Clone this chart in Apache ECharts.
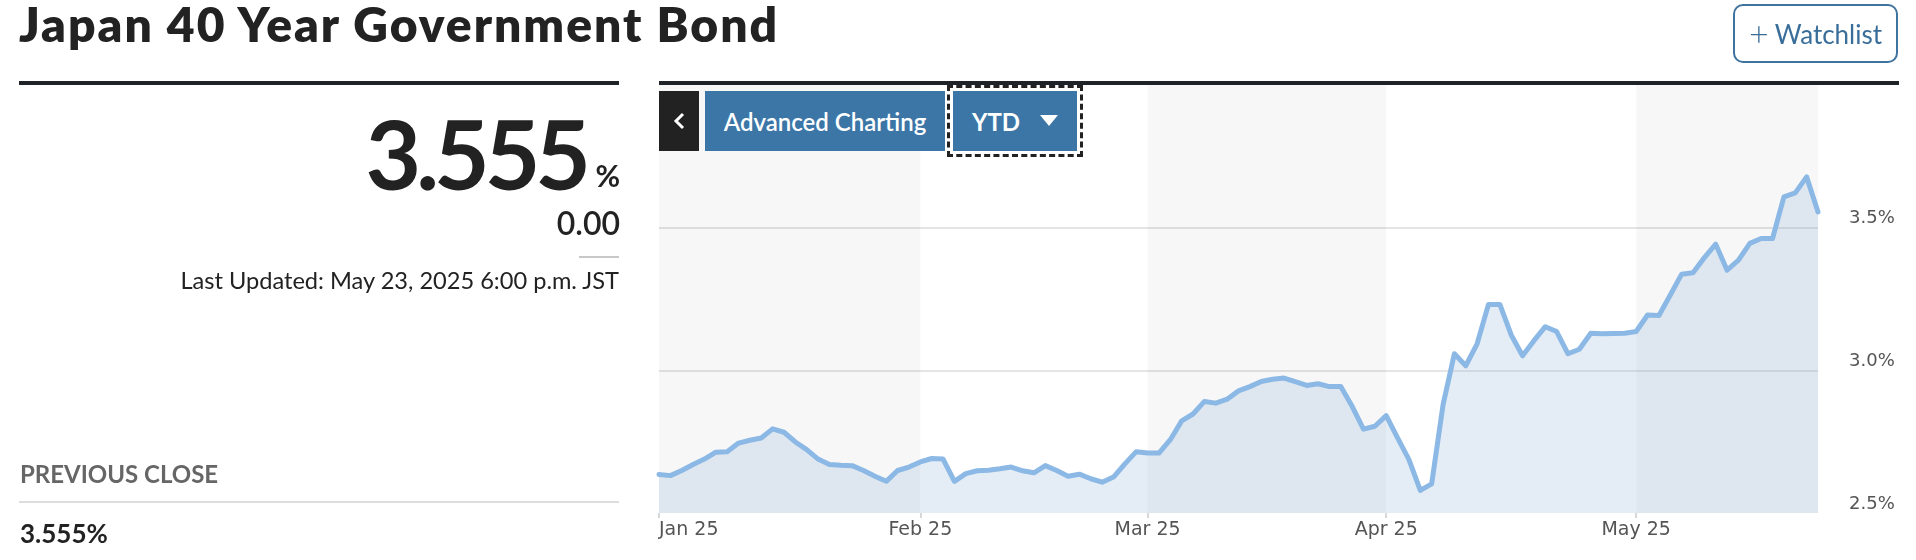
<!DOCTYPE html>
<html>
<head>
<meta charset="utf-8">
<script src="https://cdn.jsdelivr.net/npm/echarts@6/dist/echarts.min.js"></script>
<style>
html,body{margin:0;padding:0;width:1916px;height:560px;overflow:hidden;background:#fff;font-family:Lato,"Noto Sans",sans-serif;color:#222;}
#chart{position:absolute;left:0;top:0;width:1916px;height:560px;z-index:1;}
.t{position:absolute;white-space:nowrap;line-height:1;z-index:2;}
.rule{position:absolute;z-index:2;}
.btn{position:absolute;z-index:3;box-sizing:border-box;display:flex;align-items:center;justify-content:center;color:#fff;}
</style>
</head>
<body>
<div id="chart"></div>

<div class="t" style="left:19px;top:0px;font-size:48px;font-weight:800;letter-spacing:2px;color:#222;">Japan 40 Year Government Bond</div>
<div class="rule" style="left:19px;top:81px;width:600px;height:4px;background:#1f2226;"></div>
<div class="rule" style="left:659px;top:81px;width:1240px;height:4px;background:#1f2226;"></div>

<div class="btn" style="left:1733px;top:4px;width:165px;height:59px;border:2px solid #3f74a0;border-radius:10px;color:#3a6e9a;font-size:26px;">
  <span style="font-size:34px;font-weight:300;margin-right:6px;position:relative;top:-1px;">+</span>Watchlist
</div>

<div class="t" style="right:1330px;top:105px;font-size:96px;font-weight:700;letter-spacing:-5px;color:#222;">3.555</div>
<div class="t" style="right:1296px;top:160px;font-size:30px;font-weight:700;color:#222;">%</div>
<div class="t" style="right:1296px;top:207px;font-size:32px;font-weight:600;color:#222;">0.00</div>
<div class="rule" style="left:579px;top:256px;width:40px;height:2px;background:#c8c8c8;"></div>
<div class="t" style="right:1297px;top:269px;font-size:23.6px;font-weight:400;color:#222;">Last Updated: May 23, 2025 6:00 p.m. JST</div>

<div class="t" style="left:20px;top:462px;font-size:24px;font-weight:700;color:#666;">PREVIOUS CLOSE</div>
<div class="rule" style="left:19px;top:501px;width:600px;height:2px;background:#dddddd;"></div>
<div class="t" style="left:20px;top:520px;font-size:26px;font-weight:700;color:#222;">3.555%</div>

<div class="btn" style="left:659px;top:91px;width:40px;height:60px;background:#222;">
  <svg width="14" height="20" viewBox="0 0 14 20"><polyline points="11,3 4,10 11,17" fill="none" stroke="#fff" stroke-width="3"/></svg>
</div>
<div class="btn" style="left:705px;top:91px;width:240px;height:60px;background:#3b76a7;font-size:24px;font-weight:600;">Advanced Charting</div>
<div class="btn" style="left:953px;top:91px;width:124px;height:60px;background:#3b76a7;font-size:24px;font-weight:700;outline:3px dashed #222;outline-offset:3px;">
  <span style="margin-right:20px;">YTD</span>
  <svg width="18" height="12" viewBox="0 0 18 12"><polygon points="0,0 18,0 9,11" fill="#fff"/></svg>
</div>

<script>
// Weekday dates (x categories)
const dates = [
  "2025-01-01","2025-01-02","2025-01-03","2025-01-06","2025-01-07","2025-01-08","2025-01-09","2025-01-10",
  "2025-01-13","2025-01-14","2025-01-15","2025-01-16","2025-01-17","2025-01-20","2025-01-21","2025-01-22",
  "2025-01-23","2025-01-24","2025-01-27","2025-01-28","2025-01-29","2025-01-30","2025-01-31",
  "2025-02-03","2025-02-04","2025-02-05","2025-02-06","2025-02-07","2025-02-10","2025-02-11","2025-02-12",
  "2025-02-13","2025-02-14","2025-02-17","2025-02-18","2025-02-19","2025-02-20","2025-02-21","2025-02-24",
  "2025-02-25","2025-02-26","2025-02-27","2025-02-28",
  "2025-03-03","2025-03-04","2025-03-05","2025-03-06","2025-03-07","2025-03-10","2025-03-11","2025-03-12",
  "2025-03-13","2025-03-14","2025-03-17","2025-03-18","2025-03-19","2025-03-20","2025-03-21","2025-03-24",
  "2025-03-25","2025-03-26","2025-03-27","2025-03-28","2025-03-31",
  "2025-04-01","2025-04-02","2025-04-03","2025-04-04","2025-04-07","2025-04-08","2025-04-09","2025-04-10",
  "2025-04-11","2025-04-14","2025-04-15","2025-04-16","2025-04-17","2025-04-18","2025-04-21","2025-04-22",
  "2025-04-23","2025-04-24","2025-04-25","2025-04-28","2025-04-29","2025-04-30",
  "2025-05-01","2025-05-02","2025-05-05","2025-05-06","2025-05-07","2025-05-08","2025-05-09","2025-05-12",
  "2025-05-13","2025-05-14","2025-05-15","2025-05-16","2025-05-19","2025-05-20","2025-05-21","2025-05-22",
  "2025-05-23"
];

// Yield values (%) per date
const yields = [
  2.635,2.631,2.649,2.670,2.689,2.713,2.715,2.745,
  2.755,2.763,2.795,2.783,2.749,2.722,2.689,2.670,
  2.667,2.666,2.649,2.629,2.611,2.649,2.661,
  2.679,2.691,2.689,2.611,2.638,2.648,2.650,2.655,
  2.661,2.648,2.641,2.666,2.649,2.629,2.636,2.620,
  2.608,2.626,2.672,2.715,
  2.710,2.710,2.757,2.823,2.847,2.891,2.885,2.899,
  2.928,2.943,2.961,2.969,2.973,2.960,2.947,2.953,
  2.943,2.943,2.874,2.794,2.804,
  2.841,2.763,2.687,2.579,2.602,2.879,3.058,3.016,
  3.093,3.231,3.231,3.124,3.051,3.104,3.153,3.136,
  3.058,3.074,3.130,3.128,3.129,3.130,
  3.136,3.194,3.192,3.264,3.337,3.342,3.395,3.442,
  3.351,3.386,3.445,3.462,3.462,3.608,3.622,3.678,
  3.555
];

const monthNames = ["Jan","Feb","Mar","Apr","May","Jun","Jul","Aug","Sep","Oct","Nov","Dec"];
const yMin = 2.5, yMax = 4.0, yStep = 0.5;

function isMonthStart(i) {
  return i === 0 || dates[i].slice(5, 7) !== dates[i - 1].slice(5, 7);
}
function fmtMonth(v) {
  return monthNames[parseInt(v.slice(5, 7), 10) - 1] + " " + v.slice(2, 4);
}

const chart = echarts.init(document.getElementById('chart'), null, {renderer: 'canvas'});
chart.setOption({
  animation: false,
  grid: {left: 659, right: 98, top: 85, bottom: 47, outerBoundsMode: 'none', containLabel: false},
  xAxis: {
    type: 'category',
    data: dates,
    boundaryGap: false,
    axisLine: {show: false},
    axisTick: {show: true, interval: (i) => isMonthStart(i), length: 5, lineStyle: {color: '#cccccc', width: 1.5}},
    axisLabel: {
      interval: (i) => isMonthStart(i),
      formatter: fmtMonth,
      alignMinLabel: 'left',
      margin: 8,
      fontFamily: 'DejaVu Sans',
      fontSize: 19,
      color: '#555555'
    },
    splitLine: {show: false},
    splitArea: {
      show: true,
      interval: (i) => isMonthStart(i) || i === dates.length - 1,
      areaStyle: {color: ['rgba(0,0,0,0.031)', 'rgba(0,0,0,0)']}
    }
  },
  yAxis: {
    type: 'value',
    position: 'right',
    min: yMin, max: yMax, interval: yStep,
    axisLine: {show: false},
    axisTick: {show: false},
    axisLabel: {
      margin: 31,
      align: 'left',
      verticalAlign: 'bottom',
      fontFamily: 'DejaVu Sans',
      fontSize: 18,
      color: '#555555',
      formatter: (v) => (v >= yMax - 1e-9 ? '' : v.toFixed(1) + '%')
    },
    splitLine: {show: true, showMinLine: false, showMaxLine: false, lineStyle: {color: '#dddddd', width: 1.5}}
  },
  series: [{
    type: 'line',
    data: yields,
    symbol: 'none',
    smooth: false,
    lineStyle: {color: '#8bb8e5', width: 5, join: 'round', cap: 'round'},
    areaStyle: {color: 'rgba(140,178,210,0.33)'},
    z: 3
  }]
});
</script>
</body>
</html>
